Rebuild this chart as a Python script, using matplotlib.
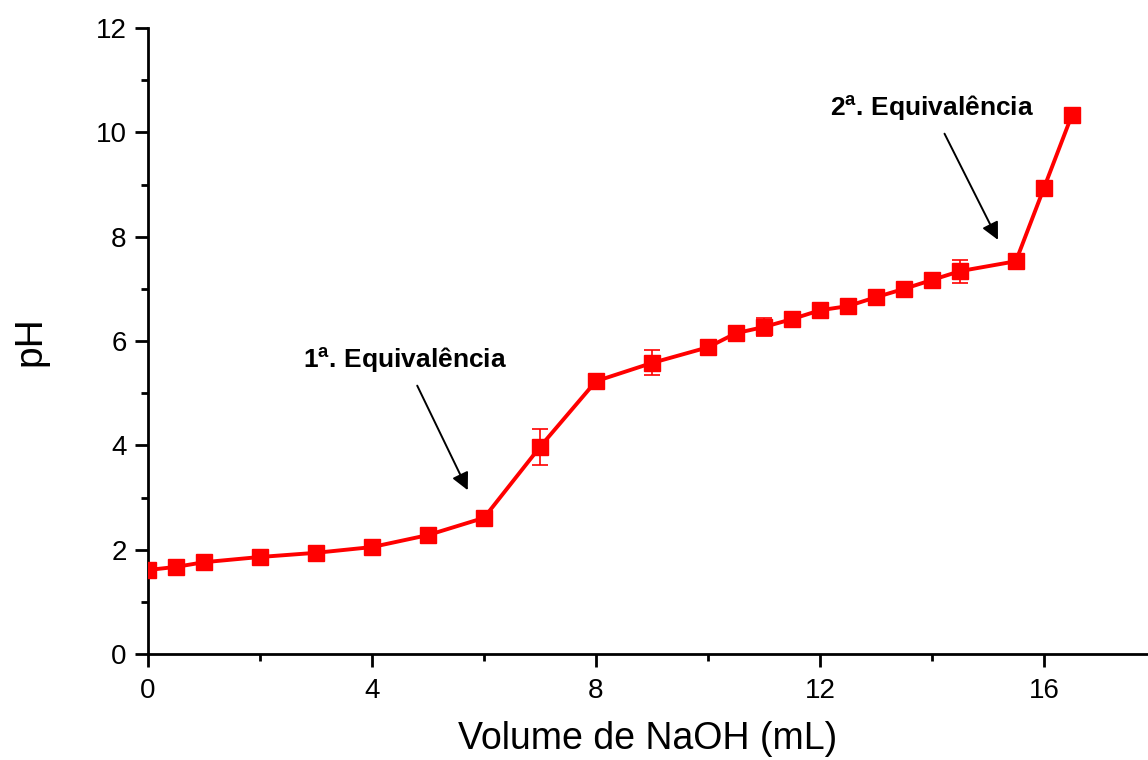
import matplotlib
matplotlib.use('Agg')
import matplotlib.pyplot as plt
from matplotlib.ticker import MultipleLocator

plt.rcParams['font.family'] = ['Liberation Sans', 'DejaVu Sans']
plt.rcParams['mathtext.fontset'] = 'custom'
plt.rcParams['mathtext.rm'] = 'Liberation Sans'
plt.rcParams['mathtext.bf'] = 'Liberation Sans:bold'

# Titration data: volume of NaOH added vs measured pH
volume = [0, 0.5, 1, 2, 3, 4, 5, 6, 7, 8, 9, 10, 10.5, 11, 11.5, 12,
          12.5, 13, 13.5, 14, 14.5, 15.5, 16, 16.5]
ph = [1.61, 1.67, 1.76, 1.86, 1.94, 2.05, 2.28, 2.61, 3.97, 5.23, 5.58,
      5.88, 6.15, 6.27, 6.42, 6.59, 6.67, 6.84, 7.00, 7.17, 7.34, 7.53,
      8.93, 10.33]
ph_err = [0.04, 0.04, 0.05, 0.04, 0.04, 0.04, 0.04, 0.05, 0.34, 0.03, 0.24,
          0.04, 0.06, 0.18, 0.06, 0.05, 0.05, 0.06, 0.06, 0.06, 0.22, 0.03,
          0.03, 0.03]

fig = plt.figure(figsize=(11.48, 7.6), dpi=100)
ax = fig.add_axes([0.129, 0.1395, 0.871, 0.8235])

ax.errorbar(volume, ph, yerr=ph_err, color='red', lw=2.8, marker='s',
            markersize=12, capsize=6, elinewidth=1.2, capthick=1.2,
            zorder=3)

ax.set_xlim(0, 17.86)
ax.set_ylim(0, 12)
ax.xaxis.set_major_locator(MultipleLocator(4))
ax.xaxis.set_minor_locator(MultipleLocator(2))
ax.yaxis.set_major_locator(MultipleLocator(2))
ax.yaxis.set_minor_locator(MultipleLocator(1))

for side in ['top', 'right']:
    ax.spines[side].set_visible(False)
for side in ['left', 'bottom']:
    ax.spines[side].set_linewidth(2)
ax.tick_params(which='major', direction='out', length=9.5, width=2,
               labelsize=20, pad=6)
ax.tick_params(axis='x', which='major', pad=8)
ax.tick_params(which='minor', direction='out', length=5, width=2)

ax.set_xlabel('Volume de NaOH (mL)', fontsize=27, labelpad=12)
ax.set_ylabel('pH', fontsize=28, labelpad=34)

# Equivalence point annotations
arrow = dict(arrowstyle='-|>', color='black', lw=1.4,
             mutation_scale=26, shrinkA=6, shrinkB=0)
ax.annotate(r'1$^{\mathbf{a}}$. Equivalência', xy=(5.71, 3.14),
            xytext=(4.59, 5.48), ha='center', va='baseline', fontsize=19,
            fontweight='bold', arrowprops=arrow)
ax.annotate(r'2$^{\mathbf{a}}$. Equivalência', xy=(15.18, 7.94),
            xytext=(14.0, 10.31), ha='center', va='baseline', fontsize=19,
            fontweight='bold', arrowprops=arrow)

fig.savefig('out.png', dpi=100)
